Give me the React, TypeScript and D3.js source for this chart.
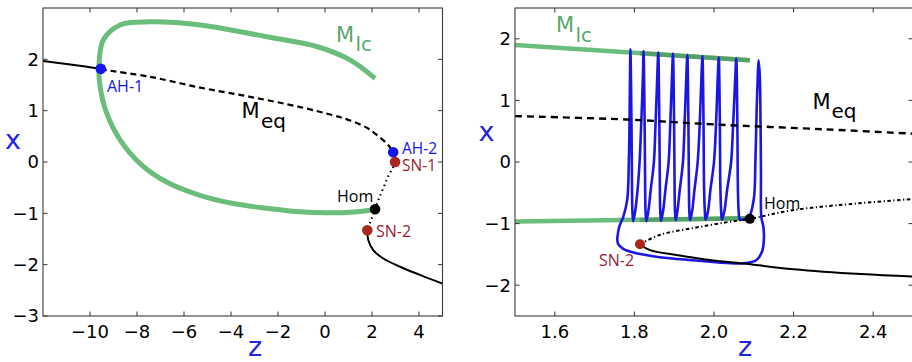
import React from 'react';
import * as d3 from 'd3';

type P = [number, number];

// ---------- Left panel data (z, x) ----------
const leftZTicks = [-10, -8, -6, -4, -2, 0, 2, 4];
const leftXTicks = [-3, -2, -1, 0, 1, 2];
const leftEqStableUpper: P[] = [[-12, 1.97], [-11, 1.91], [-10.2, 1.86], [-9.54, 1.815]];
const leftEqDashed: P[] = [[-9.54, 1.815], [-9.29, 1.79], [-7.45, 1.66], [-5.32, 1.45], [-3.19, 1.27], [-1.06, 1.07], [0.35, 0.91], [1.06, 0.81], [1.77, 0.67], [2.2, 0.53], [2.69, 0.33], [2.9, 0.19]];
const leftEqDotted: P[] = [[2.9, 0.19], [2.98, 0.0], [2.9, -0.1], [2.69, -0.28], [2.48, -0.51], [2.27, -0.74], [2.13, -0.92], [1.96, -1.13], [1.8, -1.33]];
const leftEqStableLower: P[] = [[1.8, -1.34], [1.84, -1.52], [2.06, -1.72], [2.48, -1.88], [3.19, -2.04], [4.04, -2.2], [5.0, -2.37]];
const leftLimitCycle: P[] = [[2.13, 1.63], [1.06, 1.99], [-0.35, 2.25], [-2.48, 2.44], [-5.32, 2.67], [-7.45, 2.73], [-8.72, 2.67], [-9.43, 2.38], [-9.62, 1.86], [-9.57, 1.47], [-9.29, 0.95], [-8.72, 0.43], [-7.87, -0.03], [-6.74, -0.39], [-5.32, -0.65], [-3.9, -0.81], [-2.48, -0.9], [-1.06, -0.97], [0.35, -0.99], [1.06, -0.98], [1.91, -0.94], [2.13, -0.92]];
const leftAH: P[] = [[-9.54, 1.815], [2.9, 0.19]];
const leftSN: P[] = [[2.98, 0.0], [1.8, -1.33]];
const leftHom: P[] = [[2.13, -0.92]];

// ---------- Right panel data (z, x) ----------
const rightZTicks = [1.6, 1.8, 2.0, 2.2, 2.4];
const rightXTicks = [-2, -1, 0, 1, 2];
const rightEqDashed: P[] = [[1.5, 0.745], [1.78, 0.69], [2.0, 0.61], [2.28, 0.53], [2.5, 0.46]];
const rightEqDashDot: P[] = [[1.814, -1.336], [1.865, -1.18], [1.95, -1.07], [2.03, -0.98], [2.09, -0.923], [2.2, -0.78], [2.37, -0.667], [2.5, -0.6]];
const rightEqStableLower: P[] = [[1.814, -1.34], [1.839, -1.43], [1.906, -1.51], [1.989, -1.59], [2.073, -1.646], [2.2, -1.74], [2.37, -1.82], [2.5, -1.86]];
const rightLcUpper: P[] = [[1.5, 1.9], [2.09, 1.65]];
const rightLcLower: P[] = [[1.5, -0.967], [2.09, -0.912]];
const rightLcUpperDense: P[] = [[1.814, 1.767], [2.09, 1.65]];
const rightLcLowerDense: P[] = [[1.814, -0.94], [2.09, -0.912]];
const rightTrajectory: P[] = [
  [1.757, -1.24], [1.762, -1.05], [1.772, -0.89], [1.782, -0.61], [1.786, 0.0], [1.788, 0.8], [1.789, 1.4], [1.79, 1.83],
  [1.7915, 1.3], [1.793, 0.4], [1.794, -0.4], [1.795, -0.8], [1.797, -0.96],
  [1.802, -0.8], [1.808, -0.45], [1.813, 0.0], [1.817, 0.6], [1.821, 1.3], [1.823, 1.8], [1.8245, 1.3], [1.826, 0.4], [1.827, -0.4], [1.828, -0.8], [1.83, -0.96],
  [1.835, -0.8], [1.841, -0.45], [1.849, 0.0], [1.853, 0.6], [1.857, 1.3], [1.86, 1.78], [1.8615, 1.3], [1.863, 0.4], [1.864, -0.4], [1.865, -0.8], [1.867, -0.955],
  [1.872, -0.8], [1.878, -0.45], [1.886, 0.0], [1.89, 0.6], [1.894, 1.3], [1.897, 1.76], [1.8985, 1.3], [1.9, 0.4], [1.901, -0.4], [1.902, -0.8], [1.904, -0.95],
  [1.908, -0.8], [1.914, -0.45], [1.922, 0.0], [1.926, 0.6], [1.93, 1.3], [1.933, 1.74], [1.9345, 1.3], [1.936, 0.4], [1.937, -0.4], [1.938, -0.8], [1.94, -0.945],
  [1.945, -0.8], [1.951, -0.45], [1.959, 0.0], [1.964, 0.6], [1.968, 1.3], [1.971, 1.72], [1.9725, 1.3], [1.974, 0.4], [1.975, -0.4], [1.977, -0.8], [1.979, -0.94],
  [1.985, -0.8], [1.991, -0.45], [2.0, 0.0], [2.005, 0.6], [2.009, 1.3], [2.012, 1.7], [2.0135, 1.3], [2.015, 0.4], [2.016, -0.4], [2.018, -0.8], [2.02, -0.935],
  [2.026, -0.8], [2.033, -0.45], [2.043, 0.0], [2.048, 0.6], [2.053, 1.3], [2.056, 1.68], [2.0575, 1.3], [2.059, 0.4], [2.06, -0.4], [2.062, -0.8], [2.065, -0.93],
  [2.075, -0.93], [2.088, -0.89],
  [2.1, -0.6], [2.104, 0.0], [2.107, 0.8], [2.11, 1.4], [2.112, 1.65], [2.115, 1.4], [2.117, 0.6], [2.118, -0.2], [2.119, -0.9],
  [2.124, -1.05], [2.125, -1.3], [2.121, -1.45], [2.107, -1.59], [2.073, -1.645], [2.031, -1.638], [1.947, -1.595], [1.864, -1.545], [1.8, -1.475], [1.772, -1.41], [1.759, -1.33], [1.757, -1.24],
];
const rightSN: P[] = [[1.814, -1.336]];
const rightHom: P[] = [[2.09, -0.923]];

const BLUE = '#1414ee';
const TRAJ = '#1c16e2';
const SNRED = '#a8281c';
const SNTEXT = '#9b1b30';
const GREEN = '#6abd7b';
const GREENTXT = '#58a86a';
const AXISBLUE = '#2424e0';
const TICKFONT = '"DejaVu Sans", sans-serif';
const ANNFONT = '"Open Sans", sans-serif';

interface Box { x0: number; x1: number; y0: number; y1: number; }

function Frame({ box, zs, xs, zTicks, xTicks, fmt }: any) {
  const tl = 4.5;
  return (
    <g>
      {zTicks.map((t: number) => (
        <g key={'z' + t}>
          <line x1={zs(t)} x2={zs(t)} y1={box.y1} y2={box.y1 - tl} stroke="#333" strokeWidth={1} />
          <line x1={zs(t)} x2={zs(t)} y1={box.y0} y2={box.y0 + tl} stroke="#333" strokeWidth={1} />
          <text x={zs(t)} y={338} textAnchor="middle" fontFamily={TICKFONT} fontSize={18} fill="#000">{fmt(t)}</text>
        </g>
      ))}
      {xTicks.map((t: number) => (
        <g key={'x' + t}>
          <line x1={box.x0} x2={box.x0 + tl} y1={xs(t)} y2={xs(t)} stroke="#333" strokeWidth={1} />
          <line x1={box.x1} x2={box.x1 - tl} y1={xs(t)} y2={xs(t)} stroke="#333" strokeWidth={1} />
          <text x={box.x0 - 4} y={xs(t)} dy="0.36em" textAnchor="end" fontFamily={TICKFONT} fontSize={18} fill="#000">{d3.format('d')(t)}</text>
        </g>
      ))}
      <rect x={box.x0} y={box.y0} width={box.x1 - box.x0} height={box.y1 - box.y0} fill="none" stroke="#3a3a3a" strokeWidth={1.1} />
    </g>
  );
}

export default function App() {
  const LB: Box = { x0: 43, x1: 442.5, y0: 8, y1: 316 };
  const RB: Box = { x0: 515, x1: 913, y0: 8, y1: 316 };
  const lz = d3.scaleLinear().domain([-12, 5]).range([LB.x0, LB.x1]);
  const lx = d3.scaleLinear().domain([-3, 3]).range([LB.y1, LB.y0]);
  const rz = d3.scaleLinear().domain([1.5, 2.5]).range([RB.x0, RB.x1]);
  const rx = d3.scaleLinear().domain([-2.5, 2.5]).range([RB.y1, RB.y0]);

  const mk = (zs: any, xs: any) =>
    d3.line<P>().x(d => zs(d[0])).y(d => xs(d[1])).curve(d3.curveCatmullRom.alpha(0.5));
  const ll = mk(lz, lx);
  const rl = mk(rz, rx);
  const rlin = d3.line<P>().x(d => rz(d[0])).y(d => rx(d[1]));

  return (
    <svg width={912} height={362} style={{ position: 'absolute', left: 0, top: 0, background: '#fff' }}>
      <defs>
        <clipPath id="clipL"><rect x={LB.x0} y={LB.y0} width={LB.x1 - LB.x0} height={LB.y1 - LB.y0} /></clipPath>
        <clipPath id="clipR"><rect x={RB.x0} y={RB.y0} width={RB.x1 - RB.x0} height={RB.y1 - RB.y0} /></clipPath>
      </defs>
      <rect x={0} y={0} width={912} height={362} fill="#fff" />

      {/* LEFT PANEL */}
      <g clipPath="url(#clipL)">
        <path d={ll(leftEqStableUpper) || ''} fill="none" stroke="#000" strokeWidth={2} />
        <path d={ll(leftEqDashed) || ''} fill="none" stroke="#000" strokeWidth={2.2} strokeDasharray="6,4" />
        <path d={ll(leftEqDotted) || ''} fill="none" stroke="#000" strokeWidth={2} strokeDasharray="1.5,3.5" />
        <path d={ll(leftEqStableLower) || ''} fill="none" stroke="#000" strokeWidth={2} />
        <path d={ll(leftLimitCycle) || ''} fill="none" stroke={GREEN} strokeWidth={5} strokeLinecap="butt" />
        {leftAH.map((d, i) => <circle key={'ah' + i} cx={lz(d[0])} cy={lx(d[1])} r={5.3} fill={BLUE} />)}
        {leftSN.map((d, i) => <circle key={'sn' + i} cx={lz(d[0])} cy={lx(d[1])} r={5.3} fill={SNRED} />)}
        {leftHom.map((d, i) => <circle key={'hom' + i} cx={lz(d[0])} cy={lx(d[1])} r={5.3} fill="#000" />)}
      </g>
      <Frame box={LB} zs={lz} xs={lx} zTicks={leftZTicks} xTicks={leftXTicks} fmt={d3.format('d')} />
      <text x={107} y={92} fontFamily={ANNFONT} fontSize={16} fill={BLUE}>AH-1</text>
      <text x={402} y={153.5} fontFamily={ANNFONT} fontSize={15.5} fill={BLUE}>AH-2</text>
      <text x={402} y={170.5} fontFamily={ANNFONT} fontSize={15.5} fill={SNTEXT}>SN-1</text>
      <text x={337} y={202} fontFamily={ANNFONT} fontSize={16} fill="#000">Hom</text>
      <text x={376} y={237} fontFamily={ANNFONT} fontSize={16} fill={SNTEXT}>SN-2</text>
      <text x={336} y={41.7} fontFamily={TICKFONT} fontSize={21} fill={GREENTXT}>M</text>
      <text x={355.5} y={50.7} fontFamily={TICKFONT} fontSize={20} fill={GREENTXT}>lc</text>
      <text x={241.5} y={118.3} fontFamily={TICKFONT} fontSize={21} fill="#000">M</text>
      <text x={261} y={128.3} fontFamily={TICKFONT} fontSize={20} fill="#000">eq</text>
      <text x={13} y={149} textAnchor="middle" fontFamily={TICKFONT} fontSize={27} fill={AXISBLUE}>x</text>
      <text x={255} y={356} textAnchor="middle" fontFamily={TICKFONT} fontSize={27} fill={AXISBLUE}>z</text>

      {/* RIGHT PANEL */}
      <g clipPath="url(#clipR)">
        <path d={rlin(rightLcUpper) || ''} fill="none" stroke={GREEN} strokeWidth={4.5} />
        <path d={rlin(rightLcLower) || ''} fill="none" stroke={GREEN} strokeWidth={4.5} />
        <path d={rlin(rightLcUpperDense) || ''} fill="none" stroke="#3f8a52" strokeOpacity={0.55} strokeWidth={4.5} />
        <path d={rlin(rightLcLowerDense) || ''} fill="none" stroke="#3f8a52" strokeOpacity={0.55} strokeWidth={4.5} />
        <path d={rl(rightTrajectory) || ''} fill="none" stroke={TRAJ} strokeWidth={2.6} strokeLinejoin="round" />
        <path d={rl(rightEqDashed) || ''} fill="none" stroke="#000" strokeWidth={2.4} strokeDasharray="7,5" />
        <path d={rl(rightEqDashDot) || ''} fill="none" stroke="#000" strokeWidth={2} strokeDasharray="3.5,2.5,1.2,2.5" />
        <path d={rl(rightEqStableLower) || ''} fill="none" stroke="#000" strokeWidth={2} />
        {rightSN.map((d, i) => <circle key={'rsn' + i} cx={rz(d[0])} cy={rx(d[1])} r={5} fill={SNRED} />)}
        {rightHom.map((d, i) => <circle key={'rhom' + i} cx={rz(d[0])} cy={rx(d[1])} r={5} fill="#000" />)}
      </g>
      <Frame box={RB} zs={rz} xs={rx} zTicks={rightZTicks} xTicks={rightXTicks} fmt={d3.format('.1f')} />
      <text x={764} y={208.5} fontFamily={ANNFONT} fontSize={16} fill="#000">Hom</text>
      <text x={599} y={266} fontFamily={ANNFONT} fontSize={16} fill={SNTEXT}>SN-2</text>
      <text x={556} y={31.7} fontFamily={TICKFONT} fontSize={21} fill={GREENTXT}>M</text>
      <text x={575.5} y={41.7} fontFamily={TICKFONT} fontSize={20} fill={GREENTXT}>lc</text>
      <text x={812.5} y={109.3} fontFamily={TICKFONT} fontSize={21} fill="#000">M</text>
      <text x={831.5} y={117.5} fontFamily={TICKFONT} fontSize={20} fill="#000">eq</text>
      <text x={486.5} y={141} textAnchor="middle" fontFamily={TICKFONT} fontSize={27} fill={AXISBLUE}>x</text>
      <text x={745} y={356} textAnchor="middle" fontFamily={TICKFONT} fontSize={27} fill={AXISBLUE}>z</text>
    </svg>
  );
}
